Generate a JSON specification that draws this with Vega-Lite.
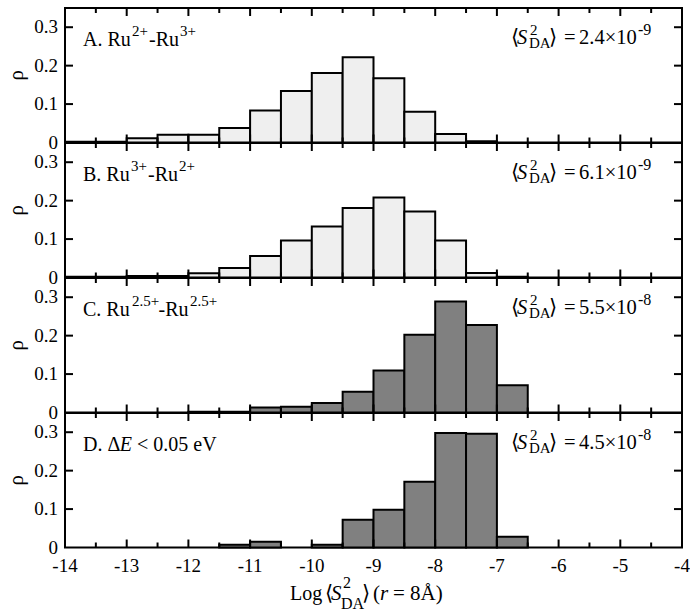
{
"$schema": "https://vega.github.io/schema/vega-lite/v6.json",
"padding": {"left": 4, "top": 6, "right": 5, "bottom": 0},
"spacing": 0,
"bounds": "flush",
"config": {
  "view": {"stroke": "black", "strokeWidth": 2},
  "text": {"align": "left", "baseline": "alphabetic", "font": "Liberation Serif", "color": "black", "fontSize": 20},
  "tick": {"color": "black", "opacity": 1, "thickness": 2}
},
"datasets": {
  "xt": [{"v":-14,"major":1},{"v":-13.5,"major":0},{"v":-13,"major":1},{"v":-12.5,"major":0},{"v":-12,"major":1},{"v":-11.5,"major":0},{"v":-11,"major":1},{"v":-10.5,"major":0},{"v":-10,"major":1},{"v":-9.5,"major":0},{"v":-9,"major":1},{"v":-8.5,"major":0},{"v":-8,"major":1},{"v":-7.5,"major":0},{"v":-7,"major":1},{"v":-6.5,"major":0},{"v":-6,"major":1},{"v":-5.5,"major":0},{"v":-5,"major":1},{"v":-4.5,"major":0},{"v":-4,"major":1}],
  "yt": [{"v":0.1},{"v":0.2},{"v":0.3}],
  "yl": [{"v":0,"t":"0"},{"v":0.1,"t":"0.1"},{"v":0.2,"t":"0.2"},{"v":0.3,"t":"0.3"}],
  "xl": [{"v":-14,"t":"-14"},{"v":-13,"t":"-13"},{"v":-12,"t":"-12"},{"v":-11,"t":"-11"},{"v":-10,"t":"-10"},{"v":-9,"t":"-9"},{"v":-8,"t":"-8"},{"v":-7,"t":"-7"},{"v":-6,"t":"-6"},{"v":-5,"t":"-5"},{"v":-4,"t":"-4"}],
  "A": [{"x0":-14,"x1":-13.5,"rho":0.002},{"x0":-13.5,"x1":-13,"rho":0.002},{"x0":-13,"x1":-12.5,"rho":0.011},{"x0":-12.5,"x1":-12,"rho":0.02},{"x0":-12,"x1":-11.5,"rho":0.02},{"x0":-11.5,"x1":-11,"rho":0.038},{"x0":-11,"x1":-10.5,"rho":0.083},{"x0":-10.5,"x1":-10,"rho":0.134},{"x0":-10,"x1":-9.5,"rho":0.181},{"x0":-9.5,"x1":-9,"rho":0.222},{"x0":-9,"x1":-8.5,"rho":0.167},{"x0":-8.5,"x1":-8,"rho":0.08},{"x0":-8,"x1":-7.5,"rho":0.022},{"x0":-7.5,"x1":-7,"rho":0.003}],
  "B": [{"x0":-14,"x1":-13.5,"rho":0.002},{"x0":-13.5,"x1":-13,"rho":0.002},{"x0":-13,"x1":-12.5,"rho":0.004},{"x0":-12.5,"x1":-12,"rho":0.004},{"x0":-12,"x1":-11.5,"rho":0.011},{"x0":-11.5,"x1":-11,"rho":0.025},{"x0":-11,"x1":-10.5,"rho":0.056},{"x0":-10.5,"x1":-10,"rho":0.096},{"x0":-10,"x1":-9.5,"rho":0.133},{"x0":-9.5,"x1":-9,"rho":0.181},{"x0":-9,"x1":-8.5,"rho":0.208},{"x0":-8.5,"x1":-8,"rho":0.172},{"x0":-8,"x1":-7.5,"rho":0.096},{"x0":-7.5,"x1":-7,"rho":0.012},{"x0":-7,"x1":-6.5,"rho":0.002}],
  "C": [{"x0":-12,"x1":-11.5,"rho":0.002},{"x0":-11.5,"x1":-11,"rho":0.002},{"x0":-11,"x1":-10.5,"rho":0.013},{"x0":-10.5,"x1":-10,"rho":0.015},{"x0":-10,"x1":-9.5,"rho":0.025},{"x0":-9.5,"x1":-9,"rho":0.054},{"x0":-9,"x1":-8.5,"rho":0.109},{"x0":-8.5,"x1":-8,"rho":0.202},{"x0":-8,"x1":-7.5,"rho":0.289},{"x0":-7.5,"x1":-7,"rho":0.228},{"x0":-7,"x1":-6.5,"rho":0.071}],
  "D": [{"x0":-11.5,"x1":-11,"rho":0.007},{"x0":-11,"x1":-10.5,"rho":0.015},{"x0":-10,"x1":-9.5,"rho":0.007},{"x0":-9.5,"x1":-9,"rho":0.072},{"x0":-9,"x1":-8.5,"rho":0.098},{"x0":-8.5,"x1":-8,"rho":0.171},{"x0":-8,"x1":-7.5,"rho":0.298},{"x0":-7.5,"x1":-7,"rho":0.296},{"x0":-7,"x1":-6.5,"rho":0.028}]
},
"vconcat": [
{
  "width": 617, "height": 134.5,
  "layer": [
    {"data": {"name": "A"}, "mark": {"type": "bar", "fill": "#efefef", "stroke": "black", "strokeWidth": 2},
     "encoding": {
       "x": {"field": "x0", "type": "quantitative", "scale": {"domain": [-14, -4], "nice": false}, "axis": null},
       "x2": {"field": "x1"},
       "y": {"field": "rho", "type": "quantitative", "scale": {"domain": [0, 0.35], "nice": false}, "axis": null},
       "y2": {"datum": 0}
     }},
    {"data": {"name": "xt"}, "transform": [{"filter": "datum.major === 1"}], "mark": {"type": "tick", "orient": "vertical", "size": 8}, "encoding": {"x": {"field": "v", "type": "quantitative", "axis": null}, "y": {"datum": 0.0104, "axis": null}}},
    {"data": {"name": "xt"}, "transform": [{"filter": "datum.major === 0"}], "mark": {"type": "tick", "orient": "vertical", "size": 5}, "encoding": {"x": {"field": "v", "type": "quantitative", "axis": null}, "y": {"datum": 0.0065, "axis": null}}},
    {"data": {"name": "xt"}, "transform": [{"filter": "datum.major === 1"}], "mark": {"type": "tick", "orient": "vertical", "size": 8}, "encoding": {"x": {"field": "v", "type": "quantitative", "axis": null}, "y": {"datum": 0.3396, "axis": null}}},
    {"data": {"name": "xt"}, "transform": [{"filter": "datum.major === 0"}], "mark": {"type": "tick", "orient": "vertical", "size": 5}, "encoding": {"x": {"field": "v", "type": "quantitative", "axis": null}, "y": {"datum": 0.3435, "axis": null}}},
    {"data": {"name": "yt"}, "mark": {"type": "tick", "orient": "horizontal", "size": 8}, "encoding": {"y": {"field": "v", "type": "quantitative", "axis": null}, "x": {"datum": -13.935, "axis": null}}},
    {"data": {"name": "yt"}, "mark": {"type": "tick", "orient": "horizontal", "size": 8}, "encoding": {"y": {"field": "v", "type": "quantitative", "axis": null}, "x": {"datum": -4.065, "axis": null}}},
    {"data": {"name": "yl"}, "mark": {"type": "text", "align": "right", "baseline": "middle", "fontSize": 19, "dx": -7}, "encoding": {"x": {"datum": -14, "axis": null}, "y": {"field": "v", "type": "quantitative", "axis": null}, "text": {"field": "t"}}},
    {"data": {"values": [{}]}, "mark": {"type": "text", "text": "ρ", "angle": 270, "align": "center", "baseline": "middle", "fontSize": 21}, "encoding": {"x": {"datum": -14.778, "axis": null}, "y": {"datum": 0.175, "axis": null}}},
    {"data": {"values": [{}]}, "mark": {"type": "text", "text": "A. Ru"}, "encoding": {"x": {"datum": -13.708, "axis": null}, "y": {"datum": 0.2524, "axis": null}}},
    {"data": {"values": [{}]}, "mark": {"type": "text", "text": "2+", "fontSize": 15, "dy": -10}, "encoding": {"x": {"datum": -12.914, "axis": null}, "y": {"datum": 0.2524, "axis": null}}},
    {"data": {"values": [{}]}, "mark": {"type": "text", "text": "-Ru"}, "encoding": {"x": {"datum": -12.639, "axis": null}, "y": {"datum": 0.2524, "axis": null}}},
    {"data": {"values": [{}]}, "mark": {"type": "text", "text": "3+", "fontSize": 15, "dy": -10}, "encoding": {"x": {"datum": -12.136, "axis": null}, "y": {"datum": 0.2524, "axis": null}}},
    {"data": {"values": [{}]}, "mark": {"type": "text", "text": "⟨", "fontSize": 20.5}, "encoding": {"x": {"datum": -6.771, "axis": null}, "y": {"datum": 0.2563, "axis": null}}},
    {"data": {"values": [{}]}, "mark": {"type": "text", "text": "S", "fontSize": 20.5, "fontStyle": "italic"}, "encoding": {"x": {"datum": -6.674, "axis": null}, "y": {"datum": 0.2563, "axis": null}}},
    {"data": {"values": [{}]}, "mark": {"type": "text", "text": "2", "fontSize": 15, "dy": -9}, "encoding": {"x": {"datum": -6.464, "axis": null}, "y": {"datum": 0.2563, "axis": null}}},
    {"data": {"values": [{}]}, "mark": {"type": "text", "text": "DA", "fontSize": 15, "dy": 4}, "encoding": {"x": {"datum": -6.48, "axis": null}, "y": {"datum": 0.2563, "axis": null}}},
    {"data": {"values": [{}]}, "mark": {"type": "text", "text": "⟩", "fontSize": 20.5}, "encoding": {"x": {"datum": -6.156, "axis": null}, "y": {"datum": 0.2563, "axis": null}}},
    {"data": {"values": [{}]}, "mark": {"type": "text", "text": "=", "fontSize": 20.5}, "encoding": {"x": {"datum": -5.912, "axis": null}, "y": {"datum": 0.2563, "axis": null}}},
    {"data": {"values": [{}]}, "mark": {"type": "text", "text": "2.4×10", "fontSize": 20.5}, "encoding": {"x": {"datum": -5.669, "axis": null}, "y": {"datum": 0.2563, "axis": null}}},
    {"data": {"values": [{}]}, "mark": {"type": "text", "text": "-9", "fontSize": 16, "dy": -9}, "encoding": {"x": {"datum": -4.713, "axis": null}, "y": {"datum": 0.2563, "axis": null}}}
  ]
},
{
  "width": 617, "height": 134.5,
  "layer": [
    {"data": {"name": "B"}, "mark": {"type": "bar", "fill": "#efefef", "stroke": "black", "strokeWidth": 2},
     "encoding": {
       "x": {"field": "x0", "type": "quantitative", "scale": {"domain": [-14, -4], "nice": false}, "axis": null},
       "x2": {"field": "x1"},
       "y": {"field": "rho", "type": "quantitative", "scale": {"domain": [0, 0.35], "nice": false}, "axis": null},
       "y2": {"datum": 0}
     }},
    {"data": {"name": "xt"}, "transform": [{"filter": "datum.major === 1"}], "mark": {"type": "tick", "orient": "vertical", "size": 8}, "encoding": {"x": {"field": "v", "type": "quantitative", "axis": null}, "y": {"datum": 0.0104, "axis": null}}},
    {"data": {"name": "xt"}, "transform": [{"filter": "datum.major === 0"}], "mark": {"type": "tick", "orient": "vertical", "size": 5}, "encoding": {"x": {"field": "v", "type": "quantitative", "axis": null}, "y": {"datum": 0.0065, "axis": null}}},
    {"data": {"name": "xt"}, "transform": [{"filter": "datum.major === 1"}], "mark": {"type": "tick", "orient": "vertical", "size": 8}, "encoding": {"x": {"field": "v", "type": "quantitative", "axis": null}, "y": {"datum": 0.3396, "axis": null}}},
    {"data": {"name": "xt"}, "transform": [{"filter": "datum.major === 0"}], "mark": {"type": "tick", "orient": "vertical", "size": 5}, "encoding": {"x": {"field": "v", "type": "quantitative", "axis": null}, "y": {"datum": 0.3435, "axis": null}}},
    {"data": {"name": "yt"}, "mark": {"type": "tick", "orient": "horizontal", "size": 8}, "encoding": {"y": {"field": "v", "type": "quantitative", "axis": null}, "x": {"datum": -13.935, "axis": null}}},
    {"data": {"name": "yt"}, "mark": {"type": "tick", "orient": "horizontal", "size": 8}, "encoding": {"y": {"field": "v", "type": "quantitative", "axis": null}, "x": {"datum": -4.065, "axis": null}}},
    {"data": {"name": "yl"}, "mark": {"type": "text", "align": "right", "baseline": "middle", "fontSize": 19, "dx": -7}, "encoding": {"x": {"datum": -14, "axis": null}, "y": {"field": "v", "type": "quantitative", "axis": null}, "text": {"field": "t"}}},
    {"data": {"values": [{}]}, "mark": {"type": "text", "text": "ρ", "angle": 270, "align": "center", "baseline": "middle", "fontSize": 21}, "encoding": {"x": {"datum": -14.778, "axis": null}, "y": {"datum": 0.175, "axis": null}}},
    {"data": {"values": [{}]}, "mark": {"type": "text", "text": "B. Ru"}, "encoding": {"x": {"datum": -13.708, "axis": null}, "y": {"datum": 0.2524, "axis": null}}},
    {"data": {"values": [{}]}, "mark": {"type": "text", "text": "3+", "fontSize": 15, "dy": -10}, "encoding": {"x": {"datum": -12.93, "axis": null}, "y": {"datum": 0.2524, "axis": null}}},
    {"data": {"values": [{}]}, "mark": {"type": "text", "text": "-Ru"}, "encoding": {"x": {"datum": -12.655, "axis": null}, "y": {"datum": 0.2524, "axis": null}}},
    {"data": {"values": [{}]}, "mark": {"type": "text", "text": "2+", "fontSize": 15, "dy": -10}, "encoding": {"x": {"datum": -12.152, "axis": null}, "y": {"datum": 0.2524, "axis": null}}},
    {"data": {"values": [{}]}, "mark": {"type": "text", "text": "⟨", "fontSize": 20.5}, "encoding": {"x": {"datum": -6.771, "axis": null}, "y": {"datum": 0.2563, "axis": null}}},
    {"data": {"values": [{}]}, "mark": {"type": "text", "text": "S", "fontSize": 20.5, "fontStyle": "italic"}, "encoding": {"x": {"datum": -6.674, "axis": null}, "y": {"datum": 0.2563, "axis": null}}},
    {"data": {"values": [{}]}, "mark": {"type": "text", "text": "2", "fontSize": 15, "dy": -9}, "encoding": {"x": {"datum": -6.464, "axis": null}, "y": {"datum": 0.2563, "axis": null}}},
    {"data": {"values": [{}]}, "mark": {"type": "text", "text": "DA", "fontSize": 15, "dy": 4}, "encoding": {"x": {"datum": -6.48, "axis": null}, "y": {"datum": 0.2563, "axis": null}}},
    {"data": {"values": [{}]}, "mark": {"type": "text", "text": "⟩", "fontSize": 20.5}, "encoding": {"x": {"datum": -6.156, "axis": null}, "y": {"datum": 0.2563, "axis": null}}},
    {"data": {"values": [{}]}, "mark": {"type": "text", "text": "=", "fontSize": 20.5}, "encoding": {"x": {"datum": -5.912, "axis": null}, "y": {"datum": 0.2563, "axis": null}}},
    {"data": {"values": [{}]}, "mark": {"type": "text", "text": "6.1×10", "fontSize": 20.5}, "encoding": {"x": {"datum": -5.669, "axis": null}, "y": {"datum": 0.2563, "axis": null}}},
    {"data": {"values": [{}]}, "mark": {"type": "text", "text": "-9", "fontSize": 16, "dy": -9}, "encoding": {"x": {"datum": -4.713, "axis": null}, "y": {"datum": 0.2563, "axis": null}}}
  ]
},
{
  "width": 617, "height": 134.5,
  "layer": [
    {"data": {"name": "C"}, "mark": {"type": "bar", "fill": "#808080", "stroke": "black", "strokeWidth": 2},
     "encoding": {
       "x": {"field": "x0", "type": "quantitative", "scale": {"domain": [-14, -4], "nice": false}, "axis": null},
       "x2": {"field": "x1"},
       "y": {"field": "rho", "type": "quantitative", "scale": {"domain": [0, 0.35], "nice": false}, "axis": null},
       "y2": {"datum": 0}
     }},
    {"data": {"name": "xt"}, "transform": [{"filter": "datum.major === 1"}], "mark": {"type": "tick", "orient": "vertical", "size": 8}, "encoding": {"x": {"field": "v", "type": "quantitative", "axis": null}, "y": {"datum": 0.0104, "axis": null}}},
    {"data": {"name": "xt"}, "transform": [{"filter": "datum.major === 0"}], "mark": {"type": "tick", "orient": "vertical", "size": 5}, "encoding": {"x": {"field": "v", "type": "quantitative", "axis": null}, "y": {"datum": 0.0065, "axis": null}}},
    {"data": {"name": "xt"}, "transform": [{"filter": "datum.major === 1"}], "mark": {"type": "tick", "orient": "vertical", "size": 8}, "encoding": {"x": {"field": "v", "type": "quantitative", "axis": null}, "y": {"datum": 0.3396, "axis": null}}},
    {"data": {"name": "xt"}, "transform": [{"filter": "datum.major === 0"}], "mark": {"type": "tick", "orient": "vertical", "size": 5}, "encoding": {"x": {"field": "v", "type": "quantitative", "axis": null}, "y": {"datum": 0.3435, "axis": null}}},
    {"data": {"name": "yt"}, "mark": {"type": "tick", "orient": "horizontal", "size": 8}, "encoding": {"y": {"field": "v", "type": "quantitative", "axis": null}, "x": {"datum": -13.935, "axis": null}}},
    {"data": {"name": "yt"}, "mark": {"type": "tick", "orient": "horizontal", "size": 8}, "encoding": {"y": {"field": "v", "type": "quantitative", "axis": null}, "x": {"datum": -4.065, "axis": null}}},
    {"data": {"name": "yl"}, "mark": {"type": "text", "align": "right", "baseline": "middle", "fontSize": 19, "dx": -7}, "encoding": {"x": {"datum": -14, "axis": null}, "y": {"field": "v", "type": "quantitative", "axis": null}, "text": {"field": "t"}}},
    {"data": {"values": [{}]}, "mark": {"type": "text", "text": "ρ", "angle": 270, "align": "center", "baseline": "middle", "fontSize": 21}, "encoding": {"x": {"datum": -14.778, "axis": null}, "y": {"datum": 0.175, "axis": null}}},
    {"data": {"values": [{}]}, "mark": {"type": "text", "text": "C. Ru"}, "encoding": {"x": {"datum": -13.708, "axis": null}, "y": {"datum": 0.2524, "axis": null}}},
    {"data": {"values": [{}]}, "mark": {"type": "text", "text": "2.5+", "fontSize": 15, "dy": -10}, "encoding": {"x": {"datum": -12.914, "axis": null}, "y": {"datum": 0.2524, "axis": null}}},
    {"data": {"values": [{}]}, "mark": {"type": "text", "text": "-Ru"}, "encoding": {"x": {"datum": -12.485, "axis": null}, "y": {"datum": 0.2524, "axis": null}}},
    {"data": {"values": [{}]}, "mark": {"type": "text", "text": "2.5+", "fontSize": 15, "dy": -10}, "encoding": {"x": {"datum": -11.974, "axis": null}, "y": {"datum": 0.2524, "axis": null}}},
    {"data": {"values": [{}]}, "mark": {"type": "text", "text": "⟨", "fontSize": 20.5}, "encoding": {"x": {"datum": -6.771, "axis": null}, "y": {"datum": 0.2563, "axis": null}}},
    {"data": {"values": [{}]}, "mark": {"type": "text", "text": "S", "fontSize": 20.5, "fontStyle": "italic"}, "encoding": {"x": {"datum": -6.674, "axis": null}, "y": {"datum": 0.2563, "axis": null}}},
    {"data": {"values": [{}]}, "mark": {"type": "text", "text": "2", "fontSize": 15, "dy": -9}, "encoding": {"x": {"datum": -6.464, "axis": null}, "y": {"datum": 0.2563, "axis": null}}},
    {"data": {"values": [{}]}, "mark": {"type": "text", "text": "DA", "fontSize": 15, "dy": 4}, "encoding": {"x": {"datum": -6.48, "axis": null}, "y": {"datum": 0.2563, "axis": null}}},
    {"data": {"values": [{}]}, "mark": {"type": "text", "text": "⟩", "fontSize": 20.5}, "encoding": {"x": {"datum": -6.156, "axis": null}, "y": {"datum": 0.2563, "axis": null}}},
    {"data": {"values": [{}]}, "mark": {"type": "text", "text": "=", "fontSize": 20.5}, "encoding": {"x": {"datum": -5.912, "axis": null}, "y": {"datum": 0.2563, "axis": null}}},
    {"data": {"values": [{}]}, "mark": {"type": "text", "text": "5.5×10", "fontSize": 20.5}, "encoding": {"x": {"datum": -5.669, "axis": null}, "y": {"datum": 0.2563, "axis": null}}},
    {"data": {"values": [{}]}, "mark": {"type": "text", "text": "-8", "fontSize": 16, "dy": -9}, "encoding": {"x": {"datum": -4.713, "axis": null}, "y": {"datum": 0.2563, "axis": null}}}
  ]
},
{
  "width": 617, "height": 134.5,
  "layer": [
    {"data": {"name": "D"}, "mark": {"type": "bar", "fill": "#808080", "stroke": "black", "strokeWidth": 2},
     "encoding": {
       "x": {"field": "x0", "type": "quantitative", "scale": {"domain": [-14, -4], "nice": false}, "axis": null},
       "x2": {"field": "x1"},
       "y": {"field": "rho", "type": "quantitative", "scale": {"domain": [0, 0.35], "nice": false}, "axis": null},
       "y2": {"datum": 0}
     }},
    {"data": {"name": "xt"}, "transform": [{"filter": "datum.major === 1"}], "mark": {"type": "tick", "orient": "vertical", "size": 8}, "encoding": {"x": {"field": "v", "type": "quantitative", "axis": null}, "y": {"datum": 0.0104, "axis": null}}},
    {"data": {"name": "xt"}, "transform": [{"filter": "datum.major === 0"}], "mark": {"type": "tick", "orient": "vertical", "size": 5}, "encoding": {"x": {"field": "v", "type": "quantitative", "axis": null}, "y": {"datum": 0.0065, "axis": null}}},
    {"data": {"name": "xt"}, "transform": [{"filter": "datum.major === 1"}], "mark": {"type": "tick", "orient": "vertical", "size": 8}, "encoding": {"x": {"field": "v", "type": "quantitative", "axis": null}, "y": {"datum": 0.3396, "axis": null}}},
    {"data": {"name": "xt"}, "transform": [{"filter": "datum.major === 0"}], "mark": {"type": "tick", "orient": "vertical", "size": 5}, "encoding": {"x": {"field": "v", "type": "quantitative", "axis": null}, "y": {"datum": 0.3435, "axis": null}}},
    {"data": {"name": "yt"}, "mark": {"type": "tick", "orient": "horizontal", "size": 8}, "encoding": {"y": {"field": "v", "type": "quantitative", "axis": null}, "x": {"datum": -13.935, "axis": null}}},
    {"data": {"name": "yt"}, "mark": {"type": "tick", "orient": "horizontal", "size": 8}, "encoding": {"y": {"field": "v", "type": "quantitative", "axis": null}, "x": {"datum": -4.065, "axis": null}}},
    {"data": {"name": "yl"}, "mark": {"type": "text", "align": "right", "baseline": "middle", "fontSize": 19, "dx": -7}, "encoding": {"x": {"datum": -14, "axis": null}, "y": {"field": "v", "type": "quantitative", "axis": null}, "text": {"field": "t"}}},
    {"data": {"values": [{}]}, "mark": {"type": "text", "text": "ρ", "angle": 270, "align": "center", "baseline": "middle", "fontSize": 21}, "encoding": {"x": {"datum": -14.778, "axis": null}, "y": {"datum": 0.175, "axis": null}}},
    {"data": {"name": "xl"}, "mark": {"type": "text", "align": "center", "baseline": "middle", "fontSize": 19, "dy": 18}, "encoding": {"x": {"field": "v", "type": "quantitative", "axis": null}, "y": {"datum": 0, "axis": null}, "text": {"field": "t"}}},
    {"data": {"values": [{}]}, "mark": {"type": "text", "text": "D. Δ"}, "encoding": {"x": {"datum": -13.708, "axis": null}, "y": {"datum": 0.2524, "axis": null}}},
    {"data": {"values": [{}]}, "mark": {"type": "text", "text": "E", "fontStyle": "italic"}, "encoding": {"x": {"datum": -13.113, "axis": null}, "y": {"datum": 0.2524, "axis": null}}},
    {"data": {"values": [{}]}, "mark": {"type": "text", "text": "< 0.05 eV"}, "encoding": {"x": {"datum": -12.833, "axis": null}, "y": {"datum": 0.2524, "axis": null}}},
    {"data": {"values": [{}]}, "mark": {"type": "text", "text": "⟨", "fontSize": 20.5}, "encoding": {"x": {"datum": -6.771, "axis": null}, "y": {"datum": 0.2563, "axis": null}}},
    {"data": {"values": [{}]}, "mark": {"type": "text", "text": "S", "fontSize": 20.5, "fontStyle": "italic"}, "encoding": {"x": {"datum": -6.674, "axis": null}, "y": {"datum": 0.2563, "axis": null}}},
    {"data": {"values": [{}]}, "mark": {"type": "text", "text": "2", "fontSize": 15, "dy": -9}, "encoding": {"x": {"datum": -6.464, "axis": null}, "y": {"datum": 0.2563, "axis": null}}},
    {"data": {"values": [{}]}, "mark": {"type": "text", "text": "DA", "fontSize": 15, "dy": 4}, "encoding": {"x": {"datum": -6.48, "axis": null}, "y": {"datum": 0.2563, "axis": null}}},
    {"data": {"values": [{}]}, "mark": {"type": "text", "text": "⟩", "fontSize": 20.5}, "encoding": {"x": {"datum": -6.156, "axis": null}, "y": {"datum": 0.2563, "axis": null}}},
    {"data": {"values": [{}]}, "mark": {"type": "text", "text": "=", "fontSize": 20.5}, "encoding": {"x": {"datum": -5.912, "axis": null}, "y": {"datum": 0.2563, "axis": null}}},
    {"data": {"values": [{}]}, "mark": {"type": "text", "text": "4.5×10", "fontSize": 20.5}, "encoding": {"x": {"datum": -5.669, "axis": null}, "y": {"datum": 0.2563, "axis": null}}},
    {"data": {"values": [{}]}, "mark": {"type": "text", "text": "-8", "fontSize": 16, "dy": -9}, "encoding": {"x": {"datum": -4.713, "axis": null}, "y": {"datum": 0.2563, "axis": null}}},
    {"data": {"values": [{}]}, "mark": {"type": "text", "text": "Log", "fontSize": 20, "dy": 52}, "encoding": {"x": {"datum": -10.353, "axis": null}, "y": {"datum": 0, "axis": null}}},
    {"data": {"values": [{}]}, "mark": {"type": "text", "text": "⟨", "fontSize": 21, "dy": 52}, "encoding": {"x": {"datum": -9.786, "axis": null}, "y": {"datum": 0, "axis": null}}},
    {"data": {"values": [{}]}, "mark": {"type": "text", "text": "S", "fontSize": 21, "fontStyle": "italic", "dy": 52}, "encoding": {"x": {"datum": -9.689, "axis": null}, "y": {"datum": 0, "axis": null}}},
    {"data": {"values": [{}]}, "mark": {"type": "text", "text": "2", "fontSize": 16, "dy": 40}, "encoding": {"x": {"datum": -9.494, "axis": null}, "y": {"datum": 0, "axis": null}}},
    {"data": {"values": [{}]}, "mark": {"type": "text", "text": "DA", "fontSize": 16, "dy": 61}, "encoding": {"x": {"datum": -9.527, "axis": null}, "y": {"datum": 0, "axis": null}}},
    {"data": {"values": [{}]}, "mark": {"type": "text", "text": "⟩", "fontSize": 21, "dy": 52}, "encoding": {"x": {"datum": -9.186, "axis": null}, "y": {"datum": 0, "axis": null}}},
    {"data": {"values": [{}]}, "mark": {"type": "text", "text": "(", "fontSize": 21, "dy": 52}, "encoding": {"x": {"datum": -9.008, "axis": null}, "y": {"datum": 0, "axis": null}}},
    {"data": {"values": [{}]}, "mark": {"type": "text", "text": "r", "fontSize": 21, "fontStyle": "italic", "dy": 52}, "encoding": {"x": {"datum": -8.895, "axis": null}, "y": {"datum": 0, "axis": null}}},
    {"data": {"values": [{}]}, "mark": {"type": "text", "text": "=", "fontSize": 21, "dy": 52}, "encoding": {"x": {"datum": -8.684, "axis": null}, "y": {"datum": 0, "axis": null}}},
    {"data": {"values": [{}]}, "mark": {"type": "text", "text": "8Å)", "fontSize": 21, "dy": 52}, "encoding": {"x": {"datum": -8.408, "axis": null}, "y": {"datum": 0, "axis": null}}}
  ]
}
]
}
